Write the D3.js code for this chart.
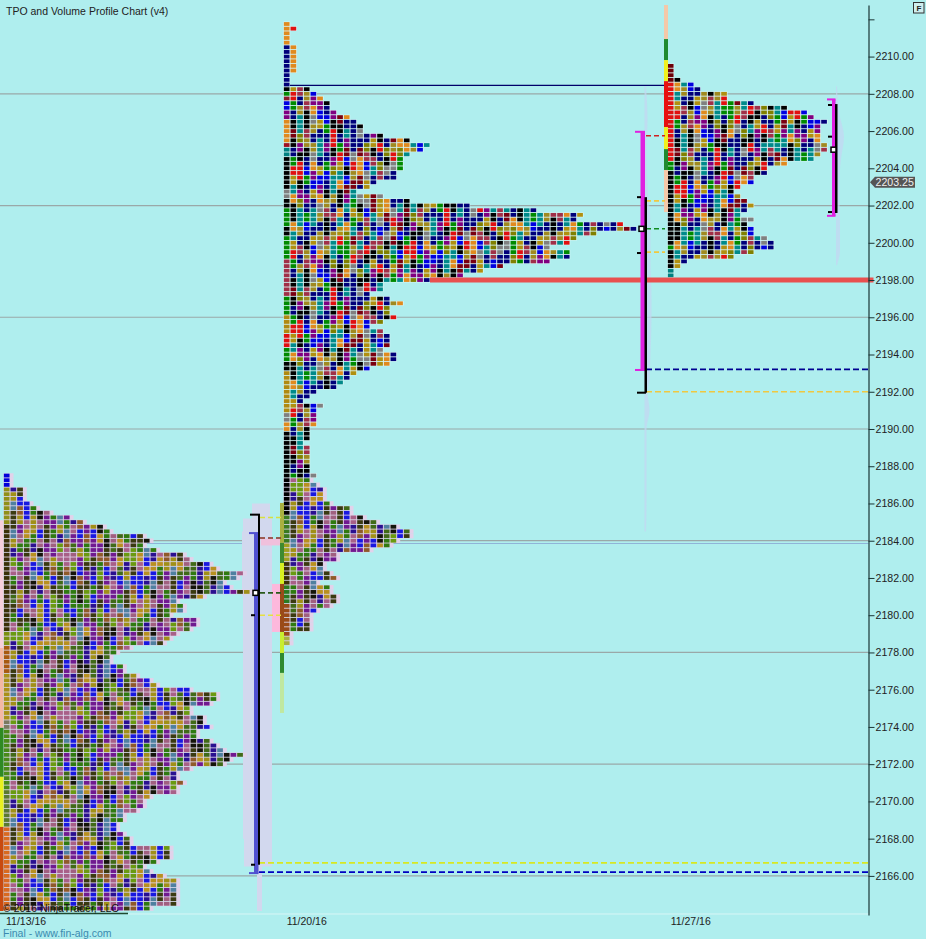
<!DOCTYPE html>
<html><head><meta charset="utf-8">
<script src="https://cdnjs.cloudflare.com/ajax/libs/d3/7.8.5/d3.min.js"></script>
<style>html,body{margin:0;padding:0;background:#afeeee;overflow:hidden}svg{display:block}text{font-family:"Liberation Sans",Arial,sans-serif}</style>
</head><body><svg id="c" width="926" height="939"></svg>
<script>
// ---------- data ----------
const sessions = ["11/13/16", "11/20/16", "11/27/16"];
const priceTicks = [2212,2210,2208,2206,2204,2202,2200,2198,2196,2194,2192,2190,2188,2186,2184,2182,2180,2178,2176,2174,2172,2170,2168,2166];
const gridPrices = [2208,2202,2196,2190,2184,2178,2172,2166];
const lastPrice = 2203.25;

// TPO counts per 0.25 price row, top row first
const profile1Top = 2187.5;
const profile1Counts = [1,1,1,3,3,3,4,5,7,10,12,15,16,21,22,21,23,27,28,31,32,36,35,33,34,37,30,26,27,27,25,29,29,28,
 26,25,24,19,17,16,16,18,18,20,22,23,28,32,32,31,28,28,30,30,31,29,29,31,32,33,36,34,33,28,26,26,27,26,
 26,22,21,21,20,18,18,17,17,18,19,19,25,25,25,23,21,22,24,26,26,26,26,26,26,22];
const profile2Top = 2211.75;
const profile2Counts = [1,2,1,1,1,2,2,2,2,2,2,1,1,1,4,5,6,7,7,8,10,11,12,12,15,19,22,21,19,18,18,18,17,17,
 14,13,11,15,19,28,38,45,44,51,53,47,44,43,40,43,43,40,33,30,27,22,15,15,
 13,16,18,16,16,17,15,13,15,16,16,16,15,17,17,16,13,11,10,9,8,5,4,3,6,5,5,5,5,4,4,4,3,4,4,4,4,4,4,5,4,5,6,
 6,6,7,10,10,12,14,17,19,19,17,16,13,8,8,6,6,7,8,5,7,7,8,8,7,5,4,4,4,4,1,1,1];
const profile3Top = 2209.5;
const profile3Counts = [1,1,1,2,4,5,9,9,13,18,21,22,24,23,23,23,23,24,24,23,22,18,15,15,13,13,11,10,11,12,13,12,11,13,12,13,13,15,16,16,13,10,3,2,1,1];
const profile2MutedBelow = 2187.25;

// first-column colour runs [colour, row count]
const firstCol1 = [["#0000d8",3],["#909018",8],["#3a3008",23],["#7a9010",3],["#a85a10",6],["#a89018",10],["#7a7a60",2],["#4a8a18",13],["#5a7a30",8],["#d86a20",18]];
const firstCol2 = [["#e08a1e",5],["#00007a",9],["#000000",1],["#008a00",1],["#8b1a2a",1],["#0000e0",2],["#800080",2],["#e08a1e",5],["#a01020",1],["#008080",2],["#000000",7],["#808080",2],["#000000",2],["#008a00",4],["#000000",2],["#008a00",5],["#a03048",8],["#008a00",4],["#b08a10",4],["#e01010",3],["#008a00",3],["#000000",2],["#b08a10",9],["#808080",2],["#e08a1e",2],["#000000",18],["#3a7a20",6],["#a0a020",4],["#3a3008",5],["#2a7a20",4],["#9a4a18",7],["#a8b040",3],["#0000d8",3]];
const secondCol2 = [[null,1],["#e01010",1],[null,3],["#e08a1e",6]];
const firstCol3 = [["#6a0008",4],["#e01010",17],["#008a00",2],["#000000",9],["#000000",7],["#008a00",1],["#000000",4],["#008080",3],["#000000",3],["#008a00",6]];

// opening-range bars [top price, bottom price, colour]
const openBar1 = [[2185.1,2178.24,"#f6cfdc"],[2178.24,2173.95,"#f4b8a4"],[2173.95,2171.32,"#2f8a22"],[2171.32,2168.63,"#e8f020"],[2168.63,2164.07,"#c84a10"]];
const openBar2 = [[2186.03,2183.88,"#a8b040"],[2183.88,2182.8,"#3f8a30"],[2182.8,2181.68,"#d8f020"],[2181.68,2179.1,"#9a4a18"],[2179.1,2177.97,"#c8ee30"],[2177.97,2176.9,"#2f8a30"],[2176.9,2174.75,"#c0e8a0"]];
const openBar3 = [[2212.77,2210.94,"#f4c8a8"],[2210.94,2209.81,"#1f8a30"],[2209.81,2208.68,"#f0f020"],[2208.68,2206.21,"#e81010"],[2206.21,2205.03,"#f0f020"],[2205.03,2203.91,"#1f8a30"],[2203.91,2201.65,"#f4c8a8"]];

// palettes
const brightColors = ["#000000","#008a8a","#b09010","#0000e0","#a03048","#008a00","#e08a1e","#00007a","#808080","#e01010","#800080","#808000","#7a0010","#00007a","#008a8a","#000000","#a08a20"];
const mutedColors = ["#3a3a10","#a09018","#2a1090","#b89020","#701a90","#a86088","#4f80a0","#2f7a10","#14140a","#6a9a10","#1818e0","#8f5a2a","#406a18","#1818e0","#701a90","#3a3a10","#a06080"];

// levels
const p1Va = [2184.41,2166.15], p1Range = [2185.4,2166.6], p1Poc = 2181.2, p1Ticks = [2180,2166.6];
const p1Dash = [[2184.15,"#8a3020"],[2181.2,"#2a5a1a"],[2180,"#e8e040"],[2185.25,"#d8e040"]];
const p1Ext = [[2166.2,"#0000c0"],[2166.7,"#d8e820"]];
const p2Va = [2205.96,2193.17], p2Range = [2202.45,2191.95], p2Poc = 2200.75, p2Ticks = [2202.45,2199.45];
const p2Dash = [[2205.75,"#d02020"],[2202.25,"#f0c840"],[2200.75,"#108a20"],[2199.5,"#f0c840"]];
const p2Ext = [[2193.2,"#000090"],[2192,"#f0c840"]];
const nakedHigh = 2208.45, redLevel = 2198;
const p3Va = [2207.7,2201.45], p3Range = [2207.45,2201.6], p3Poc = 2205, p3Ticks = [2207.4,2205.7,2201.65];

// volume ghosts: price, extent left, extent right of bar
const ghost1Prices = [2186,2185.2,2184.5,2181,2176,2172,2168,2166.5,2165.9,2164.0];
const ghost1Left  = [2,6,15,16,15,15,15,14,1,1];
const ghost1Right = [7,12,14,14,14,14,14,14,4,4];
const ghost2Prices = [2208.4,2206.6,2205,2203,2201,2199,2197,2196,2194,2192.6,2192,2191,2190,2188,2186,2184.5];
const ghost2Width  = [0.5,2,1,2,5,5,6,6,5,4,2,4,1,1,1,0.5];
const ghost3Prices = [2208.4,2207,2205.7,2204.5,2203,2201,2199.6,2198.8];
const ghost3Width  = [1,3,8,5,3,4,4,1];

// ---------- scales ----------
const W = 926, H = 939;
const y = d3.scaleLinear().domain([2212.77,2163.9]).range([5,915]);
const sessionX = d3.scaleOrdinal().domain(sessions).range([6.7,286.7,670.7]);
const colX = d3.scaleLinear().domain([0,1]).range([0,6.667]);
const rowStep = Math.abs(y(0.25)-y(0));
const axisX = 868.5;
const svg = d3.select("#c");
svg.append("rect").attr("width",W).attr("height",H).attr("fill","#afeeee");

// grid
svg.append("g").selectAll("line").data(gridPrices).join("line")
  .attr("x1",0).attr("x2",axisX).attr("y1",d=>y(d)).attr("y2",d=>y(d)).attr("stroke","#9aa8a8").attr("stroke-width",1.2);
svg.append("line").attr("x1",0).attr("x2",axisX).attr("y1",y(2183.85)).attr("y2",y(2183.85)).attr("stroke","#8fb4d8").attr("stroke-width",1);

// ghosts
const g1 = ghost1Prices.map((p,i)=>({p,l:ghost1Left[i],r:ghost1Right[i]}));
const barX1 = 258, barX2 = 645.5, barX3 = 836;
svg.append("path").attr("fill","#d2d8ee").attr("d",d3.area().y(d=>y(d.p)).x0(d=>barX1-d.l).x1(d=>barX1+d.r).curve(d3.curveStepAfter)(g1));
svg.append("path").attr("fill","#c4d6f2").attr("fill-opacity",.7).attr("d",d3.area().y((d,i)=>y(d)).x0(barX2-1).x1((d,i)=>barX2+ghost2Width[i]).curve(d3.curveMonotoneY)(ghost2Prices));
svg.append("path").attr("fill","#c4d6f2").attr("fill-opacity",.7).attr("d",d3.area().y((d,i)=>y(d)).x0(barX3).x1((d,i)=>barX3+ghost3Width[i]).curve(d3.curveMonotoneY)(ghost3Prices));

// pink opening-range shading near profile 2
svg.append("rect").attr("x",272).attr("width",8).attr("y",y(2181.68)).attr("height",y(2179.1)-y(2181.68)).attr("fill","#fdb8dc");
svg.append("rect").attr("x",261).attr("width",20).attr("y",y(2184.1)).attr("height",y(2183.8)-y(2184.1)+1).attr("fill","#f0c0dc");

function runLookup(runs){const out=[];(runs||[]).forEach(([c,n])=>{for(let i=0;i<n;i++)out.push(c)});return out;}
function cellColor(palette,r,c,seed){
  const R = Math.floor((r+c*c+seed)/2);
  return palette[(c*5 + R*R*3 + R*c) % palette.length];
}
function drawProfile(session,top,counts,opts){
  const x0 = sessionX(session);
  const g = svg.append("g");
  const first = runLookup(opts.first), second = runLookup(opts.second);
  const rows = counts.map((n,r)=>({n,r,price:top-r*0.25}));
  // halo / backing behind each row
  g.selectAll("rect.h").data(rows).join("rect").attr("class","h")
    .attr("x",x0-3.2).attr("y",d=>y(d.price)-rowStep/2)
    .attr("width",d=>colX(d.n)+(opts.muted(d.price)?colX(0.5):0)).attr("height",rowStep)
    .attr("fill",d=>opts.muted(d.price)?"#e2d2ea":"#dff8f8");
  rows.forEach(row=>{
    const muted = opts.muted(row.price);
    const pal = muted?mutedColors:brightColors;
    g.selectAll(null).data(d3.range(row.n)).join("rect")
      .attr("x",c=>x0+colX(c)-2.85).attr("y",y(row.price)-1.9)
      .attr("width",5.7).attr("height",3.8)
      .attr("fill",c=>(c===0&&first[row.r])?first[row.r]:(c===1&&second[row.r])?second[row.r]:cellColor(pal,row.r,c,opts.seed));
  });
}
function drawBar(data,x,w){
  svg.append("g").selectAll("rect").data(data).join("rect")
    .attr("x",x).attr("width",w).attr("y",d=>y(d[0])).attr("height",d=>y(d[1])-y(d[0])).attr("fill",d=>d[2]);
}

drawProfile(sessions[0],profile1Top,profile1Counts,{muted:()=>true,first:firstCol1,seed:1});
drawProfile(sessions[1],profile2Top,profile2Counts,{muted:p=>p<=profile2MutedBelow,first:firstCol2,second:secondCol2,seed:4});
drawProfile(sessions[2],profile3Top,profile3Counts,{muted:()=>false,first:firstCol3,seed:9});
drawBar(openBar1,0,3.5);
drawBar(openBar2,280,4);
drawBar(openBar3,664,4);

// bottom strip
svg.append("rect").attr("x",0).attr("y",911).attr("width",axisX).attr("height",30).attr("fill","#afeeee");
svg.append("line").attr("x1",0).attr("x2",128).attr("y1",913.5).attr("y2",913.5).attr("stroke","#204a30").attr("stroke-width",1.5);
svg.append("line").attr("x1",128).attr("x2",axisX).attr("y1",914).attr("y2",914).attr("stroke","#d8f6f6").attr("stroke-width",1);

// level lines
const nav = svg.append("g");
nav.append("line").attr("x1",290).attr("x2",664).attr("y1",y(nakedHigh)).attr("y2",y(nakedHigh)).attr("stroke","#00006a").attr("stroke-width",1.2);
nav.append("line").attr("x1",430).attr("x2",axisX+5).attr("y1",y(redLevel)).attr("y2",y(redLevel)).attr("stroke","#e8504f").attr("stroke-width",5);
function extLines(data,x1){
  svg.append("g").selectAll("line").data(data).join("line")
    .attr("x1",x1).attr("x2",axisX).attr("y1",d=>y(d[0])).attr("y2",d=>y(d[0]))
    .attr("stroke",d=>d[1]).attr("stroke-width",1.6).attr("stroke-dasharray","6,3");
}
extLines(p1Ext,259); extLines(p2Ext,646);
function dashes(data,x1,x2){
  svg.append("g").selectAll("line").data(data).join("line")
    .attr("x1",x1).attr("x2",x2).attr("y1",d=>y(d[0])).attr("y2",d=>y(d[0]))
    .attr("stroke",d=>d[1]).attr("stroke-width",1.6).attr("stroke-dasharray","5,3");
}
dashes(p1Dash,260,283); dashes(p2Dash,646,665);

// brackets
function bracket(va,range,poc,ticks,o){
  const g = svg.append("g");
  g.append("rect").attr("x",o.vx).attr("width",o.vw).attr("y",y(va[0])).attr("height",y(va[1])-y(va[0])).attr("fill",o.vc);
  g.append("rect").attr("x",o.vcap).attr("width",o.vx+o.vw-o.vcap).attr("y",y(va[0])-1).attr("height",2).attr("fill",o.vc);
  g.append("rect").attr("x",o.vcap).attr("width",o.vx+o.vw-o.vcap).attr("y",y(va[1])-1).attr("height",2).attr("fill",o.vc);
  g.append("rect").attr("x",o.bx).attr("width",o.bw).attr("y",y(range[0])).attr("height",y(range[1])-y(range[0])).attr("fill","#000");
  g.selectAll("rect.t").data(ticks).join("rect").attr("class","t")
    .attr("x",o.tx).attr("width",o.tw).attr("y",d=>y(d)-1).attr("height",2).attr("fill","#000");
  g.append("rect").attr("x",o.mx-2.5).attr("y",y(poc)-2.5).attr("width",5).attr("height",5).attr("fill","#fff").attr("stroke","#000").attr("stroke-width",1.5);
}
bracket(p1Va,p1Range,p1Poc,p1Ticks,{vx:254,vw:4.5,vc:"#5050d0",vcap:249,bx:258,bw:2,tx:251,tw:4,mx:255.5});
svg.append("rect").attr("x",250).attr("width",10).attr("y",y(p1Range[0])-1).attr("height",2).attr("fill","#000");
bracket(p2Va,p2Range,p2Poc,p2Ticks,{vx:640.5,vw:4.5,vc:"#e020e0",vcap:635,bx:644.5,bw:2.5,tx:637,tw:4,mx:641.5});
svg.append("rect").attr("x",637).attr("width",9).attr("y",y(p2Range[1])-1).attr("height",2).attr("fill","#000");
bracket(p3Va,p3Range,p3Poc,p3Ticks,{vx:832,vw:3.5,vc:"#e020e0",vcap:827,bx:835,bw:2.5,tx:828,tw:4,mx:833.5});

// axis
const axis = d3.axisRight(y).tickValues(priceTicks).tickSize(6).tickPadding(1).tickSizeOuter(0)
  .tickFormat(d=>d===2212?"":d3.format(".2f")(d));
const ag = svg.append("g").attr("transform",`translate(${axisX},0)`).call(axis);
ag.select(".domain").attr("stroke","#1a3434").attr("stroke-width",1.2);
ag.selectAll(".tick line").attr("stroke","#1a3434");
ag.selectAll(".tick text").attr("fill","#222").attr("font-size",10.6).attr("font-family",'"Liberation Sans",Arial,sans-serif');

// last price flag
const fy = y(lastPrice);
svg.append("path").attr("fill","#555").attr("d",d3.line()([[870,fy],[875,fy-5.5],[915,fy-5.5],[915,fy+5.5],[875,fy+5.5]])+"Z");
svg.append("text").attr("x",875.5).attr("y",fy+3.8).attr("font-size",10.6).attr("fill","#f0f0f0").text(d3.format(".2f")(lastPrice));

// F button
svg.append("rect").attr("x",913.5).attr("y",2.5).attr("width",10.5).attr("height",10.5).attr("fill","#cfeeee").attr("stroke","#333");
svg.append("text").attr("x",916.5).attr("y",11).attr("font-size",8).attr("font-weight","bold").attr("fill","#222").text("F");

// texts
svg.append("text").attr("x",6).attr("y",15).attr("font-size",10.5).attr("fill","#222").text("TPO and Volume Profile Chart (v4)");
svg.append("text").attr("x",3).attr("y",912).attr("font-size",10.5).attr("fill","#111").text("© 2016 NinjaTrader, LLC");
svg.append("g").selectAll("text").data(sessions).join("text")
  .attr("x",d=>sessionX(d)-(d===sessions[0]?0.7:0)).attr("y",924.7).attr("font-size",10.5).attr("fill","#222").text(d=>d);
svg.append("text").attr("x",3).attr("y",936.5).attr("font-size",10.5).attr("fill","#3a8ab0").text("Final - www.fin-alg.com");
</script></body></html>
